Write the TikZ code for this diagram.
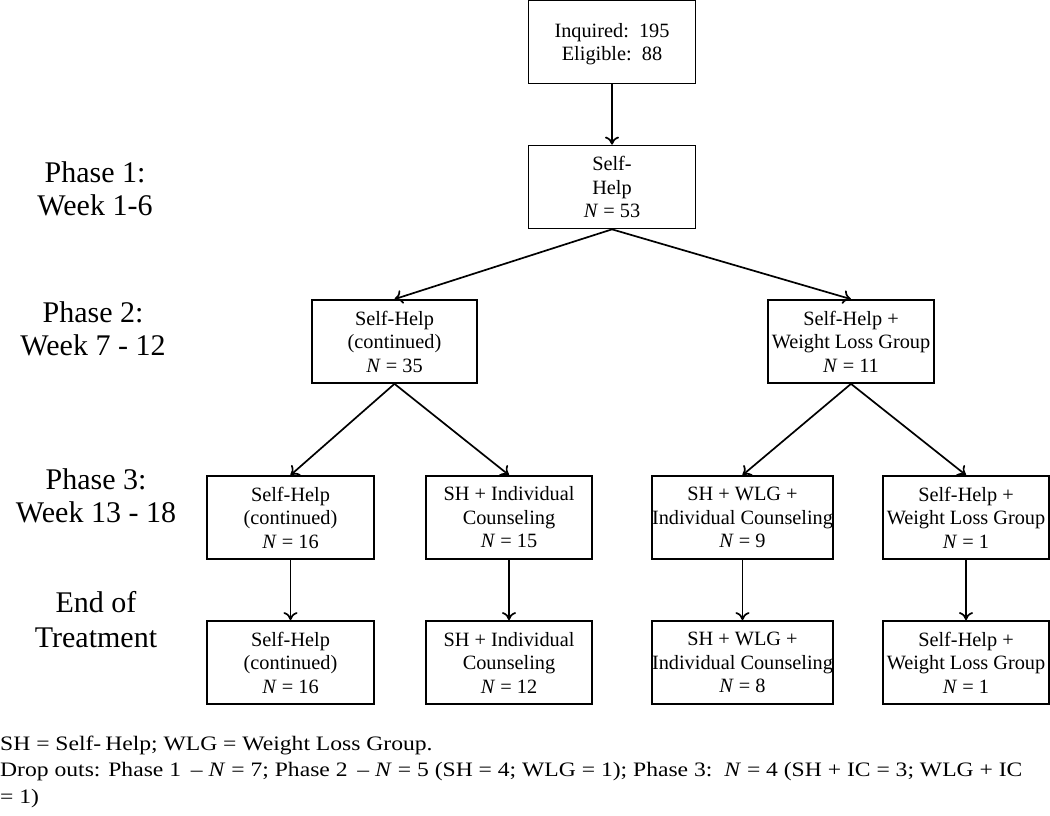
\documentclass[tikz,border=0pt]{standalone}
\usepackage{fontspec}
\setmainfont{Liberation Serif}
\usetikzlibrary{arrows.meta}
\begin{document}
\begin{tikzpicture}[x=1pt,y=-1pt,
  box/.style={draw, line width=1.7pt, inner sep=0pt, align=center, minimum height=83pt,
    font=\fontsize{20.3}{23.5}\selectfont},
  phase/.style={align=center, inner sep=0pt, font=\fontsize{30}{33}\selectfont},
  note/.style={anchor=west, inner sep=0pt, font=\fontsize{23.6}{26}\selectfont},
  arr/.style={line width=1.7pt, -{To[length=8pt,width=14pt]}}]
\useasboundingbox (0,0) rectangle (1050,816);

% boxes
\node[box, minimum width=167pt, text depth=-8pt] (top) at (612,42) {Inquired:\ \ 195\\Eligible:\ \ 88};
\node[box, minimum width=167pt] (sh1) at (612,187) {Self-\\Help\\\textit{N} = 53};
\node[box, minimum width=165pt] (p2a) at (394.5,341.5) {Self-Help\\(continued)\\\textit{N} = 35};
\node[box, minimum width=166pt] (p2b) at (851,341.5) {Self-Help +\\Weight Loss Group\\\textit{N} = 11};
\node[box, minimum width=167pt] (p3a) at (290.5,517.5) {Self-Help\\(continued)\\\textit{N} = 16};
\node[box, minimum width=166pt] (p3b) at (509,517.5) {SH + Individual\\Counseling\\\textit{N} = 15};
\node[box, minimum width=177pt] (p3c) at (742.5,517.5) {SH + WLG +\\Individual Counseling\\\textit{N} = 9};
\node[box, minimum width=166pt] (p3d) at (966,517.5) {Self-Help +\\Weight Loss Group\\\textit{N} = 1};
\node[box, minimum width=167pt] (e1) at (290.5,662.5) {Self-Help\\(continued)\\\textit{N} = 16};
\node[box, minimum width=166pt] (e2) at (509,662.5) {SH + Individual\\Counseling\\\textit{N} = 12};
\node[box, minimum width=177pt] (e3) at (742.5,662.5) {SH + WLG +\\Individual Counseling\\\textit{N} = 8};
\node[box, minimum width=166pt] (e4) at (966,662.5) {Self-Help +\\Weight Loss Group\\\textit{N} = 1};

% phase labels
\node[phase] (ph1) at (95,189) {Phase 1:\\Week 1-6};
\node[phase] (ph2) at (93,329) {Phase 2:\\Week 7 - 12};
\node[phase] (ph3) at (96,496) {Phase 3:\\Week 13 - 18};
\node[phase, font=\fontsize{30}{35}\selectfont] (ph4) at (96,620) {End of\\Treatment};

% connectors
\draw[arr] (top.south) -- (sh1.north);
\draw[arr] (sh1.south) -- (p2a.north);
\draw[arr] (sh1.south) -- (p2b.north);
\draw[arr] (p2a.south) -- (p3a.north);
\draw[arr] (p2a.south) -- (p3b.north);
\draw[arr] (p2b.south) -- (p3c.north);
\draw[arr] (p2b.south) -- (p3d.north);
\draw[arr] (p3a.south) -- (e1.north);
\draw[arr] (p3b.south) -- (e2.north);
\draw[arr] (p3c.south) -- (e3.north);
\draw[arr] (p3d.south) -- (e4.north);

% notes
\node[note] (n1) at (0,745) {\scalebox{1}[0.87]{SH = Self-\,Help; WLG = Weight Loss Group.}};
\node[note] (n2) at (0,772) {\scalebox{1}[0.87]{Drop outs: Phase 1 \,– \textit{N} = 7; Phase 2 \,– \textit{N} = 5 (SH = 4; WLG = 1); Phase 3:\ \ \textit{N} = 4 (SH + IC = 3; WLG + IC}};
\node[note] (n3) at (0,799) {\scalebox{1}[0.87]{= 1)}};
\end{tikzpicture}
\end{document}
